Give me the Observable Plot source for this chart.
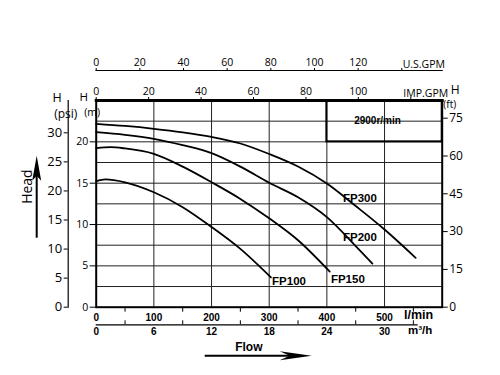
<!DOCTYPE html>
<html><head><meta charset="utf-8">
<script src="https://cdn.jsdelivr.net/npm/d3@7"></script>
<script src="https://cdn.jsdelivr.net/npm/@observablehq/plot@0.6"></script>
<style>body{margin:0;background:#fff;} svg{overflow:visible}</style>
</head><body><div id="chart"></div>
<script>
// ---- data (flow in l/min, head in m) ----
const models = ["FP100", "FP150", "FP200", "FP300"];
const fp100Q = [0, 16, 50, 100, 150, 200, 250, 303];
const fp100H = [15.24, 15.45, 15.1, 13.9, 12.1, 9.7, 7.05, 3.6];
const fp150Q = [0, 25, 50, 100, 150, 200, 250, 300, 350, 405];
const fp150H = [19.23, 19.35, 19.2, 18.55, 17.0, 15.12, 13.1, 10.75, 8.1, 4.3];
const fp200Q = [0, 50, 100, 150, 200, 250, 300, 350, 400, 450, 479];
const fp200H = [21.17, 20.85, 20.37, 19.6, 18.63, 17.0, 15.05, 13.3, 10.9, 7.4, 5.28];
const fp300Q = [0, 50, 100, 150, 200, 250, 300, 350, 400, 450, 500, 554];
const fp300H = [22.18, 21.92, 21.58, 21.15, 20.59, 19.8, 18.53, 17.02, 14.96, 12.24, 9.4, 5.97];
const labelQ = [305, 407, 428, 428];
const labelH = [3.1, 3.4, 8.4, 13.2];

const lpmTicks = [0, 100, 200, 300, 400, 500];
const lpmMinor = [50, 150, 250, 350, 450, 550];
const m3hTicks = [0, 6, 12, 18, 24, 30];
const m3hMinor = [3, 9, 15, 21, 27, 33];
const usgpmTicks = [0, 20, 40, 60, 80, 100, 120, 140];
const impgpmTicks = [0, 20, 40, 60, 80, 100, 120];
const mTicks = [0, 5, 10, 15, 20];
const psiTicks = [0, 5, 10, 15, 20, 25, 30];
const ftTicks = [0, 15, 30, 45, 60, 75];
const gridQ = [100, 200, 300, 400, 500];
const gridH = [2.5, 5, 7.5, 10, 12.5, 15, 17.5, 20, 22.5];
const speedText = "2900r/min";
const boxQ = [400, 600];
const boxH = [20, 25];

const LPM_PER_USGPM = 3.78541, LPM_PER_IMPGPM = 4.54609, LPM_PER_M3H = 1000 / 60;
const M_PER_PSI = 0.70307, M_PER_FT = 0.3048;

const series = [[fp100Q, fp100H], [fp150Q, fp150H], [fp200Q, fp200H], [fp300Q, fp300H]];
const rows = series.flatMap(([q, h], i) => q.map((v, j) => ({model: models[i], Q: v, H: h[j]})));
const labels = models.map((m, i) => ({model: m, Q: labelQ[i], H: labelH[i]}));

const bold = "'Liberation Sans',Arial,sans-serif";
const reg = "'Open Sans','Noto Sans',sans-serif";

function arrows(index, scales, values, dims) {
  const g = d3.create("svg:g").attr("fill", "#000").attr("stroke", "#000");
  const L = dims.marginLeft, B = dims.height - dims.marginBottom;
  // Head arrow (vertical)
  const hx = L - 59;
  g.append("line").attr("x1", hx).attr("x2", hx).attr("y1", B - 69).attr("y2", B - 135).attr("stroke-width", 2);
  g.append("path").attr("stroke", "none")
    .attr("d", `M${hx},${B - 151} L${hx + 4.5},${B - 126} L${hx},${B - 131} L${hx - 4.5},${B - 126} Z`);
  // Flow arrow (horizontal)
  const fy = B + 49;
  g.append("line").attr("x1", L + 109).attr("x2", L + 200).attr("y1", fy).attr("y2", fy).attr("stroke-width", 2);
  g.append("path").attr("stroke", "none")
    .attr("d", `M${L + 216},${fy} L${L + 184},${fy - 4.5} L${L + 194},${fy} L${L + 184},${fy + 4.5} Z`);
  return g.node();
}

const chart = Plot.plot({
  width: 500, height: 375,
  marginLeft: 95.7, marginRight: 58.3, marginTop: 100, marginBottom: 68.3,
  x: {domain: [0, 600]},
  y: {domain: [0, 25]},
  style: {fontFamily: reg, color: "#000", background: "#fff", overflow: "visible"},
  marks: [
    Plot.ruleX(gridQ, {stroke: "#222", strokeWidth: 1}),
    Plot.ruleY(gridH, {stroke: "#222", strokeWidth: 1}),
    Plot.rect([{x1: boxQ[0], x2: boxQ[1], y1: boxH[0], y2: boxH[1]}], {x1: "x1", x2: "x2", y1: "y1", y2: "y2", fill: "none", stroke: "#000", strokeWidth: 2}),
    Plot.text([speedText], {x: (boxQ[0] + boxQ[1]) / 2, y: (boxH[0] + boxH[1]) / 2, dx: -7, fontFamily: bold, fontWeight: "bold", fontSize: 10, fill: "#000"}),
    Plot.line(rows, {x: "Q", y: "H", z: "model", stroke: "#000", strokeWidth: 1.8, curve: "monotone-x"}),
    Plot.text(labels, {x: "Q", y: "H", text: "model", textAnchor: "start", fontFamily: bold, fontWeight: "bold", fontSize: 11.5, fill: "#000"}),
    Plot.frame({stroke: "#000", strokeWidth: 2}),
    Plot.frame({anchor: "top", stroke: "#000", strokeWidth: 3}),
    // left m axis
    Plot.axisY(mTicks, {anchor: "left", tickSize: 6, tickPadding: 2, fontSize: 10.5, label: null}),
    // psi axis
    Plot.frame({anchor: "left", dx: -28, stroke: "#000", strokeWidth: 1.2}),
    Plot.axisY(psiTicks.map(v => v * M_PER_PSI), {anchor: "left", dx: -28, tickSize: 4, tickPadding: 2, tickFormat: d => Math.round(d / M_PER_PSI), fontSize: 13, label: null}),
    // ft axis
    Plot.axisY(ftTicks.map(v => v * M_PER_FT), {anchor: "right", tickSize: 5, tickPadding: 2, tickFormat: d => Math.round(d / M_PER_FT), fontSize: 12, label: null}),
    // IMP.GPM axis
    Plot.axisX(impgpmTicks.map(v => v * LPM_PER_IMPGPM), {anchor: "top", tickSize: 4, tickPadding: 2, tickFormat: d => { const v = Math.round(d / LPM_PER_IMPGPM); return v === impgpmTicks[impgpmTicks.length - 1] ? "" : v; }, fontSize: 10.5, label: null}),
    Plot.text(["IMP.GPM"], {x: impgpmTicks[impgpmTicks.length - 1] * LPM_PER_IMPGPM, frameAnchor: "top", dx: 15, dy: -11, fontSize: 10.5, fill: "#000"}),
    // U.S.GPM axis
    Plot.frame({anchor: "top", dy: -30, stroke: "#000", strokeWidth: 1.2}),
    Plot.axisX(usgpmTicks.map(v => v * LPM_PER_USGPM), {anchor: "top", dy: -30, tickSize: 3, tickPadding: 2, tickFormat: d => { const v = Math.round(d / LPM_PER_USGPM); return v === usgpmTicks[usgpmTicks.length - 1] ? "" : v; }, fontSize: 10.5, label: null}),
    Plot.text(["U.S.GPM"], {x: usgpmTicks[usgpmTicks.length - 1] * LPM_PER_USGPM, frameAnchor: "top", dx: 22, dy: -39.5, fontSize: 10.5, fill: "#000"}),
    // l/min axis
    Plot.axisX(lpmMinor, {anchor: "bottom", tickSize: 5, tickFormat: () => "", label: null}),
    Plot.axisX(lpmTicks, {anchor: "bottom", tickSize: 0, tickPadding: 6.5, fontFamily: bold, fontWeight: "bold", fontSize: 10, label: null}),
    // m3/h axis
    Plot.ruleY([0], {x1: 0, x2: 33.5 * LPM_PER_M3H, dy: 17.6, stroke: "#000", strokeWidth: 1.2}),
    Plot.axisX(m3hMinor.map(v => v * LPM_PER_M3H), {anchor: "bottom", dy: 13.6, tickSize: 4, tickFormat: () => "", label: null}),
    Plot.axisX(m3hTicks.map(v => v * LPM_PER_M3H), {anchor: "bottom", tickSize: 0, tickPadding: 20.5, tickFormat: d => Math.round(d / LPM_PER_M3H), fontFamily: bold, fontWeight: "bold", fontSize: 10, label: null}),
    Plot.text(["l/min"], {frameAnchor: "bottom-right", dx: -9, dy: 11.5, fontFamily: bold, fontWeight: "bold", fontSize: 12.5, fill: "#000"}),
    Plot.text(["m³/h"], {frameAnchor: "bottom-right", dx: -10, dy: 26.5, fontFamily: bold, fontWeight: "bold", fontSize: 11.5, fill: "#000"}),
    // axis titles
    Plot.text(["H"], {frameAnchor: "top-left", dx: -43.7, dy: -7.3, fontSize: 12.5, fill: "#000"}),
    Plot.text(["(psi)"], {frameAnchor: "top-left", dx: -42, dy: 9, fontSize: 12, fill: "#000"}),
    Plot.text(["H"], {frameAnchor: "top-left", dx: -16.7, dy: -7.3, fontSize: 11.5, fill: "#000"}),
    Plot.text(["(m)"], {frameAnchor: "top-left", dx: -12, dy: 8, fontSize: 10.5, fill: "#000"}),
    Plot.text(["H"], {frameAnchor: "top-right", dx: 17.3, dy: -15, fontSize: 12, fill: "#000"}),
    Plot.text(["(ft)"], {frameAnchor: "top-right", dx: 14, dy: 0.5, fontSize: 10, fill: "#000"}),
    Plot.text(["Head"], {frameAnchor: "left", dx: -68.4, rotate: -90, fontSize: 14, fill: "#000"}),
    Plot.text(["Flow"], {frameAnchor: "bottom", dx: -20.4, dy: 43.6, fontFamily: bold, fontWeight: "bold", fontSize: 12, fill: "#000"}),
    arrows
  ]
});
document.getElementById("chart").appendChild(chart);
</script>
</body></html>
